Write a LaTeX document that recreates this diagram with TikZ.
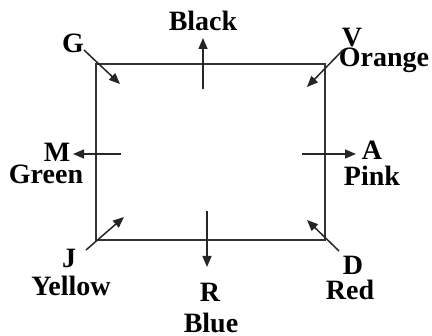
\documentclass[tikz,border=0pt]{standalone}
\usepackage{fontspec}
\setmainfont{Liberation Serif}
\usetikzlibrary{arrows.meta}

\begin{document}
\begin{tikzpicture}[x=1pt,y=-1pt,>={Triangle[length=11pt,width=9pt]},
  font=\bfseries\fontsize{28}{30}\selectfont]

\tikzset{
lbl/.style={anchor=base,inner sep=0pt},
arr/.style={->,line width=1.5pt,color=black!85}
}

\useasboundingbox (0,0) rectangle (432,336);

% room outline
\draw[line width=1.6pt,color=black!80] (96,64) rectangle (325,240);

% labels
\node[lbl] (G) at (73,53) {G};
\node[lbl] (black) at (203,31) {Black};
\node[lbl] (V) at (352,47) {V};
\node[lbl] (orange) at (384,67) {Orange};
\node[lbl] (M) at (57,162) {M};
\node[lbl] (green) at (46,184) {Green};
\node[lbl] (A) at (372,160) {A};
\node[lbl] (pink) at (372,186) {Pink};
\node[lbl] (J) at (69,268) {J};
\node[lbl] (yellow) at (71,296) {Yellow};
\node[lbl] (R) at (210,302) {R};
\node[lbl] (blue) at (211,333) {Blue};
\node[lbl] (D) at (353,275) {D};
\node[lbl] (red) at (350,300) {Red};

% arrow ends
\coordinate (Gt) at (84,50);   \coordinate (Gh) at (120,84);
\coordinate (Bt) at (203,89);  \coordinate (Bh) at (203,38);
\coordinate (Vt) at (343,50);  \coordinate (Vh) at (307,87);
\coordinate (Mt) at (121,154); \coordinate (Mh) at (73,154);
\coordinate (At) at (302,154); \coordinate (Ah) at (356,154);
\coordinate (Jt) at (86,250);  \coordinate (Jh) at (124,217);
\coordinate (Rt) at (207,211); \coordinate (Rh) at (207,267);
\coordinate (Dt) at (339,251); \coordinate (Dh) at (307,220);

\draw[arr] (Gt) -- (Gh);
\draw[arr] (Bt) -- (Bh);
\draw[arr] (Vt) -- (Vh);
\draw[arr] (Mt) -- (Mh);
\draw[arr] (At) -- (Ah);
\draw[arr] (Jt) -- (Jh);
\draw[arr] (Rt) -- (Rh);
\draw[arr] (Dt) -- (Dh);

\end{tikzpicture}
\end{document}
